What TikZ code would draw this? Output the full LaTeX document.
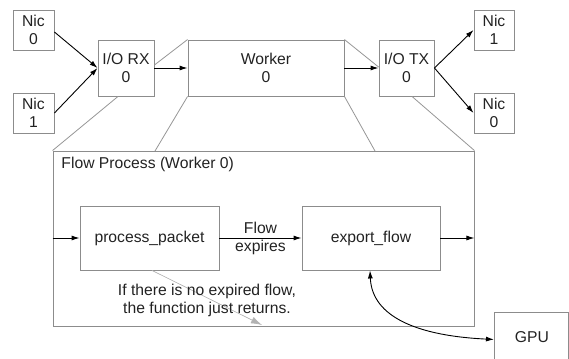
\documentclass[tikz,border=0pt]{standalone}
\usepackage{fontspec}
\setmainfont{Liberation Sans}
\usetikzlibrary{arrows.meta,positioning}

\definecolor{boxgray}{RGB}{140,140,140}
\definecolor{zoomgray}{RGB}{150,150,150}
\definecolor{textgray}{RGB}{34,34,34}

\tikzset{
  blk/.style={draw=boxgray, line width=0.9pt, inner sep=0pt, align=center,
    text=textgray, font=\fontsize{15.7}{18}\selectfont},
  flowarrow/.style={-{Latex[length=8pt,width=5pt]}, line width=0.9pt},
  zoomline/.style={draw=zoomgray, line width=0.8pt},
}

\begin{document}
\begin{tikzpicture}[x=1pt,y=-1pt]
\useasboundingbox (0,0) rectangle (569,358);
\clip (0,0) rectangle (569,358);

% top row
\node[blk, minimum width=41pt, minimum height=40pt] (nicA) at (33.5,30) {Nic\\0};
\node[blk, minimum width=41pt, minimum height=40pt] (nicB) at (33.5,113) {Nic\\1};
\node[blk, minimum width=56pt, minimum height=56pt] (rx) at (126,68) {I/O RX\\0};
\node[blk, minimum width=156pt, minimum height=56pt] (worker) at (266,68) {Worker\\0};
\node[blk, minimum width=55pt, minimum height=56pt] (tx) at (406.5,68) {I/O TX\\0};
\node[blk, minimum width=40pt, minimum height=40pt] (nicC) at (494,30) {Nic\\1};
\node[blk, minimum width=40pt, minimum height=40pt] (nicD) at (494,113) {Nic\\0};

% flow process
\node[blk, minimum width=421pt, minimum height=175pt] (flow) at (263.5,238.5) {};
\node[blk, draw=none, anchor=base west] (flowtitle) at (61,168) {Flow Process (Worker 0)};
\node[blk, minimum width=139pt, minimum height=64pt] (pp) at (149.5,238) {process\_packet};
\node[blk, minimum width=138pt, minimum height=64pt] (ef) at (371,238) {export\_flow};
\node[blk, minimum width=74pt, minimum height=54pt, anchor=north west] (gpu) at (494,312) {};
\node[blk, draw=none] (gputext) at (532,337) {GPU};

\coordinate (zl) at (155,151);
\coordinate (zr) at (375,151);
\coordinate (noexp) at (262,325);

% zoom lines
\draw[zoomline] ([yshift=3pt]rx.east) -- (worker.north west);
\draw[zoomline] (worker.north east) -- ([yshift=1pt]tx.west);
\draw[zoomline] ([xshift=-8pt]rx.south) -- (flow.north west);
\draw[zoomline] (worker.south west) -- (zl);
\draw[zoomline] (worker.south east) -- (zr);
\draw[zoomline] ([xshift=5.5pt]tx.south) -- (flow.north east);

% connectors
\draw[flowarrow] ([yshift=-2pt]nicA.east) -- (rx.west);
\draw[flowarrow] (nicB.east) -- (rx.west);
\draw[flowarrow] (rx) -- (worker);
\draw[flowarrow] (worker) -- (tx);
\draw[flowarrow] (tx.east) -- (nicC.west);
\draw[flowarrow] (tx.east) -- (nicD.west);

\draw[flowarrow] (flow.west |- pp.west) -- (pp.west);
\draw[flowarrow] (pp) -- node[blk, draw=none] (expires) {Flow\\expires} (ef);
\draw[flowarrow] (ef.east) -- (flow.east |- ef.east);
\draw[-{Latex[length=11pt,width=7pt]}, draw=gray!60, fill=gray!45, line width=0.6pt]
  ([xshift=2.5pt]pp.south) -- (noexp);
\node[blk, draw=none] (noexptext) at (207,300)
  {If there is no expired flow,\\the function just returns.};
\draw[{Latex[length=8pt,width=5pt]}-{Latex[length=8pt,width=5pt]}, line width=0.9pt]
  ([xshift=-1pt]ef.south) .. controls (372,318) and (420,336) .. (gpu.west);

\end{tikzpicture}
\end{document}
